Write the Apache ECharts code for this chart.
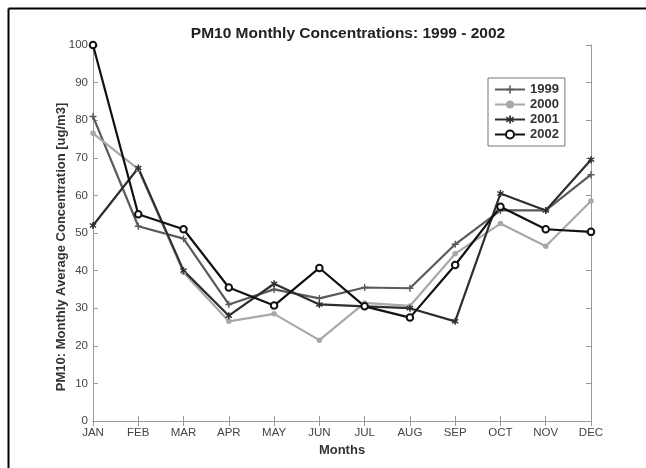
<!DOCTYPE html>
<html><head><meta charset="utf-8">
<script src="https://cdn.jsdelivr.net/npm/echarts@6/dist/echarts.min.js"></script>
<style>html,body{margin:0;padding:0;background:#fff}#c{width:646px;height:468px}</style>
</head><body><div id="c"></div>
<script>
const months = ['JAN','FEB','MAR','APR','MAY','JUN','JUL','AUG','SEP','OCT','NOV','DEC'];
const y1999 = [81, 51.8, 48.5, 31, 35, 32.6, 35.5, 35.3, 47, 56, 56, 65.5];
const y2000 = [76.5, 67, 39.5, 26.5, 28.5, 21.5, 31.4, 30.6, 44.5, 52.5, 46.5, 58.5];
const y2001 = [52, 67.3, 40, 28, 36.5, 31, 30.5, 30, 26.5, 60.5, 56, 69.5];
const y2002 = [100, 55, 51, 35.5, 30.7, 40.7, 30.5, 27.5, 41.5, 57, 51, 50.3];
const yTicks = [0,10,20,30,40,50,60,70,80,90,100];

const plusSym = 'path://M4,0 L6,0 L6,4 L10,4 L10,6 L6,6 L6,10 L4,10 L4,6 L0,6 L0,4 L4,4 Z';
const starSym = 'path://M4,0 L6,0 L6,3.3 L8.6,1.4 L9.6,3 L6.8,5 L9.6,7 L8.6,8.6 L6,6.7 L6,10 L4,10 L4,6.7 L1.4,8.6 L0.4,7 L3.2,5 L0.4,3 L1.4,1.4 L4,3.3 Z';

const font = 'Liberation Sans, Arial, sans-serif';
const chart = echarts.init(document.getElementById('c'));
function mk(name, data, color, symbol, size, extra) {
  return Object.assign({
    name, type: 'line', data, symbol, symbolSize: size,
    lineStyle: {color, width: 2.2}, itemStyle: {color},
    xAxisIndex: 0, yAxisIndex: 0, animation: false
  }, extra || {});
}
chart.setOption({
  animation: false,
  title: {text: 'PM10 Monthly Concentrations: 1999 - 2002', left: 343, textAlign: 'center', top: 21,
    textStyle: {fontFamily: font, fontSize: 15.5, fontWeight: 'bold', color: '#222'}},
  legend: {orient: 'vertical', left: 488, top: 78, itemGap: 2, itemWidth: 30, itemHeight: 10,
    borderColor: '#777', borderWidth: 1, padding: [5, 6, 5, 6], backgroundColor: '#fff',
    textStyle: {fontFamily: font, fontSize: 13, fontWeight: 'bold', color: '#333'},
    data: ['1999','2000','2001','2002']},
  grid: {left: 93, right: 55, top: 45, bottom: 47},
  xAxis: [{type: 'category', data: months, boundaryGap: false,
    axisLine: {lineStyle: {color: '#999', width: 1}},
    axisTick: {inside: true, length: 5, lineStyle: {color: '#999'}},
    axisLabel: {fontFamily: font, fontSize: 11.5, color: '#444', margin: 6},
    name: 'Months', nameLocation: 'middle', nameGap: 23, nameMoveOverlap: false,
    nameTextStyle: {fontFamily: font, fontSize: 13, fontWeight: 'bold', color: '#333'}},
   {type: 'category', data: months, boundaryGap: false, position: 'top',
    axisLine: {lineStyle: {color: '#999'}},
    axisTick: {inside: true, length: 5, lineStyle: {color: '#999'}},
    axisLabel: {show: false}}],
  yAxis: [{type: 'value', min: 0, max: 100, interval: 10,
    axisLine: {show: true, lineStyle: {color: '#999'}},
    axisTick: {show: true, inside: true, length: 5, lineStyle: {color: '#999'}},
    splitLine: {show: false},
    axisLabel: {fontFamily: font, fontSize: 11.5, color: '#444', margin: 5,
      formatter: v => yTicks.includes(v) ? String(v) : ''},
    name: 'PM10: Monthly Average Concentration [ug/m3]', nameLocation: 'middle', nameGap: 25, nameMoveOverlap: false,
    nameTextStyle: {fontFamily: font, fontSize: 13, fontWeight: 'bold', color: '#333', padding: [0, 28, 0, 0]}},
   {type: 'value', min: 0, max: 100, interval: 10, position: 'right',
    axisLine: {show: true, lineStyle: {color: '#999'}},
    axisTick: {show: true, inside: true, length: 5, lineStyle: {color: '#999'}},
    splitLine: {show: false}, axisLabel: {show: false}}],
  graphic: [
    {type: 'line', shape: {x1: 8.5, y1: 8.5, x2: 646, y2: 8.5}, style: {stroke: '#000', lineWidth: 2}},
    {type: 'line', shape: {x1: 8.5, y1: 8.5, x2: 8.5, y2: 468}, style: {stroke: '#000', lineWidth: 2}}
  ],
  series: [
    mk('1999', y1999, '#5a5a5a', plusSym, 7),
    mk('2000', y2000, '#a8a8a8', 'circle', 5.5),
    mk('2001', y2001, '#2e2e2e', starSym, 7),
    mk('2002', y2002, '#111111', 'emptyCircle', 6.5, {itemStyle: {color: '#111', borderColor: '#111', borderWidth: 1.6}})
  ]
});
</script></body></html>
